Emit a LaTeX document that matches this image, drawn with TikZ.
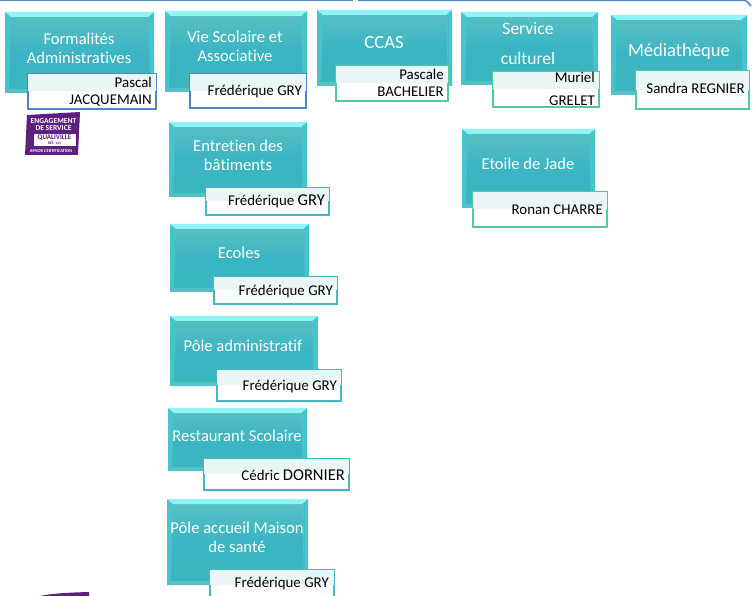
\documentclass[tikz,border=0pt]{standalone}
\usepackage{fontspec}
\setmainfont{Carlito}[Ligatures=CommonOff]
\usetikzlibrary{calc}
\definecolor{topteal}{HTML}{5BBFC2}
\definecolor{midteal}{HTML}{3BB5C4}
\definecolor{lowteal}{HTML}{38B6BC}
\definecolor{edgeteal}{HTML}{A6E9EA}
\definecolor{bevellight}{HTML}{8FF4F6}
\definecolor{bevelside}{HTML}{48C2CB}
\definecolor{linkblue}{HTML}{4F86C6}
\definecolor{linkgreen}{HTML}{4FC9A0}
\definecolor{linkteal}{HTML}{45B8C4}
\definecolor{bandpale}{HTML}{EAF5F6}
\definecolor{badgepurple}{HTML}{5E1F7E}
\tikzset{
  svcshape/.style={rectangle,draw=edgeteal,line width=1pt,inner sep=0pt,anchor=north west,
    top color=topteal,bottom color=lowteal,middle color=midteal},
  svctext/.style={text=white,font=\fontsize{16.6}{18.5}\selectfont,align=center,inner sep=0pt},
  bigsvctext/.style={svctext,font=\fontsize{18.6}{20}\selectfont},
  personshape/.style={rectangle,line width=1.8pt,fill=white,inner sep=0pt,anchor=north west},
  persontext/.style={text=black,font=\fontsize{14.9}{17}\selectfont,align=right,inner sep=0pt,anchor=east},
  badgetext/.style={text=white,inner sep=0pt,font=\bfseries\fontsize{7.6}{8}\selectfont},
  frameline/.style={draw=linkblue,line width=1.5pt}
}
% [text style], name, x1, y1, x2, y2, cx, cy, text
\newcommand\svcbox[9][svctext]{%
  \pgfmathsetmacro\bw{#5-#3}\pgfmathsetmacro\bh{#6-#4}%
  \node[svcshape,minimum width=\bw pt,minimum height=\bh pt] (#2) at (#3,#4) {};
  \fill[bevelside] (#2.north west) -- ($(#2.north west)+(6,5)$) -- ($(#2.south west)+(4,-4)$) -- (#2.south west) -- cycle;
  \fill[bevelside] (#2.north east) -- ($(#2.north east)+(-6,5)$) -- ($(#2.south east)+(-4,-4)$) -- (#2.south east) -- cycle;
  \fill[bevellight] (#2.north west) -- (#2.north east) -- ($(#2.north east)+(-6,5)$) -- ($(#2.north west)+(6,5)$) -- cycle;
  \fill[lowteal!85!white] (#2.south west) -- ($(#2.south west)+(4,-4)$) -- ($(#2.south east)+(-4,-4)$) -- (#2.south east) -- cycle;
  \node[#1] (#2t) at (#7,#8) {#9};
}
% name, x1, y1, x2, y2, colour, right x, cy, text
\newcommand\personbox[9]{%
  \pgfmathsetmacro\bw{#4-#2-1}\pgfmathsetmacro\bh{#5-#3-1}%
  \node[personshape,draw=#6,minimum width=\bw pt,minimum height=\bh pt] (#1) at (#2,#3) {};
  \fill[bandpale] ($(#1.north west)+(1,1)$) rectangle ($(#1.east)+(-1,0)$);
  \node[persontext] (#1t) at (#7,#8) {#9};
}
\begin{document}
\begin{tikzpicture}[x=1pt,y=-1pt]
\useasboundingbox (0,0) rectangle (753,596);
\fill[white] (0,0) rectangle (753,596);
% top frame
\coordinate (fa) at (0,0.5);
\coordinate (fb) at (353,0.5);
\coordinate (fc) at (358,0.5);
\coordinate (fd) at (745,0.5);
\coordinate (fe) at (751,5);
\draw[frameline] (fa) -- (fb);
\draw[frameline] (fc) -- (fd) to[out=0,in=-90] (fe);
% bottom purple fragment
\fill[badgepurple] (40,596) .. controls (55,593) and (72,592.5) .. (89,592) -- (89,596) -- cycle;

\svcbox{form}{5}{12}{153}{92}{79}{48.5}{Formalités\\Administratives}
\personbox{formp}{27}{73}{156}{109}{linkblue}{152}{91.5}{Pascal\\JACQUEMAIN}

\svcbox{vie}{165}{11}{306}{91}{235}{46.5}{Vie Scolaire et\\Associative}
\personbox{viep}{189}{73}{306}{108}{linkblue}{302}{92}{Frédérique GRY}

\svcbox{entr}{169}{122}{306}{196}{238}{155.5}{Entretien des\\bâtiments}
\personbox{entrp}{205}{187}{329}{215}{linkteal}{325}{201}{Frédérique {\fontsize{16.5}{17}\selectfont GRY}}

\svcbox{ecol}{170}{224}{308}{291}{239}{253}{Ecoles}
\personbox{ecolp}{213}{276}{337}{304}{linkteal}{333}{292}{Frédérique GRY}

\svcbox{padm}{170}{316}{317}{385}{243}{346}{Pôle administratif}
\personbox{padmp}{216}{369}{341}{401}{linkteal}{337}{387}{Frédérique GRY}

\svcbox{rest}{168}{408}{306}{470}{237}{435.5}{Restaurant Scolaire}
\personbox{restp}{203}{458}{349}{490}{linkteal}{345}{475}{Cédric {\fontsize{16.5}{17}\selectfont DORNIER}}

\svcbox{accu}{167}{499}{307}{584}{237}{537.5}{Pôle accueil Maison\\de santé}
\personbox{accup}{209}{569}{334}{600}{linkteal}{329}{584}{Frédérique GRY}

\svcbox[bigsvctext]{ccas}{317}{10}{451}{85}{384}{43}{CCAS}
\personbox{ccasp}{335}{65}{448}{101}{linkgreen}{444}{82.5}{Pascale\\BACHELIER}

\svcbox[bigsvctext]{cult}{461}{12}{597}{84}{528}{44}{\fontsize{17.5}{18.5}\selectfont Service\\[10pt]\fontsize{17.5}{18.5}\selectfont culturel}
\personbox{cultp}{492}{71}{599}{107}{linkgreen}{595}{89}{Muriel\\[6pt]GRELET}

\svcbox[bigsvctext]{medi}{611}{15}{746}{94}{679}{51.5}{Médiathèque}
\personbox{medip}{635}{70}{749}{109}{linkgreen}{745}{88}{Sandra REGNIER}

\svcbox{etoi}{462}{129}{594}{207}{528}{164}{Etoile de Jade}
\personbox{etoip}{472}{191}{607}{227}{linkgreen}{603}{209.5}{Ronan CHARRE}

% certification badge
\fill[badgepurple] (25,155) -- (27,115) -- (80,112) -- (78,155) -- cycle;
\node[rectangle,fill=white,inner sep=0pt,minimum width=42pt,minimum height=12pt] (badgebox) at (54.5,140) {};
\node[badgetext] (badgea) at (53.5,121) {ENGAGEMENT};
\node[badgetext] (badgeb) at (53.5,128.5) {DE SERVICE};
\node[text=badgepurple,inner sep=0pt,font=\bfseries\fontsize{7}{7}\selectfont] (badgec) at (54.5,137.5) {QUALIVILLE};
\node[text=badgepurple,inner sep=0pt,font=\bfseries\fontsize{3.8}{4}\selectfont] (badged) at (54.5,143) {RÉF. 111};
\node[badgetext,font=\bfseries\fontsize{4.5}{5}\selectfont] (badgee) at (51,151) {AFNOR CERTIFICATION};
\end{tikzpicture}
\end{document}
